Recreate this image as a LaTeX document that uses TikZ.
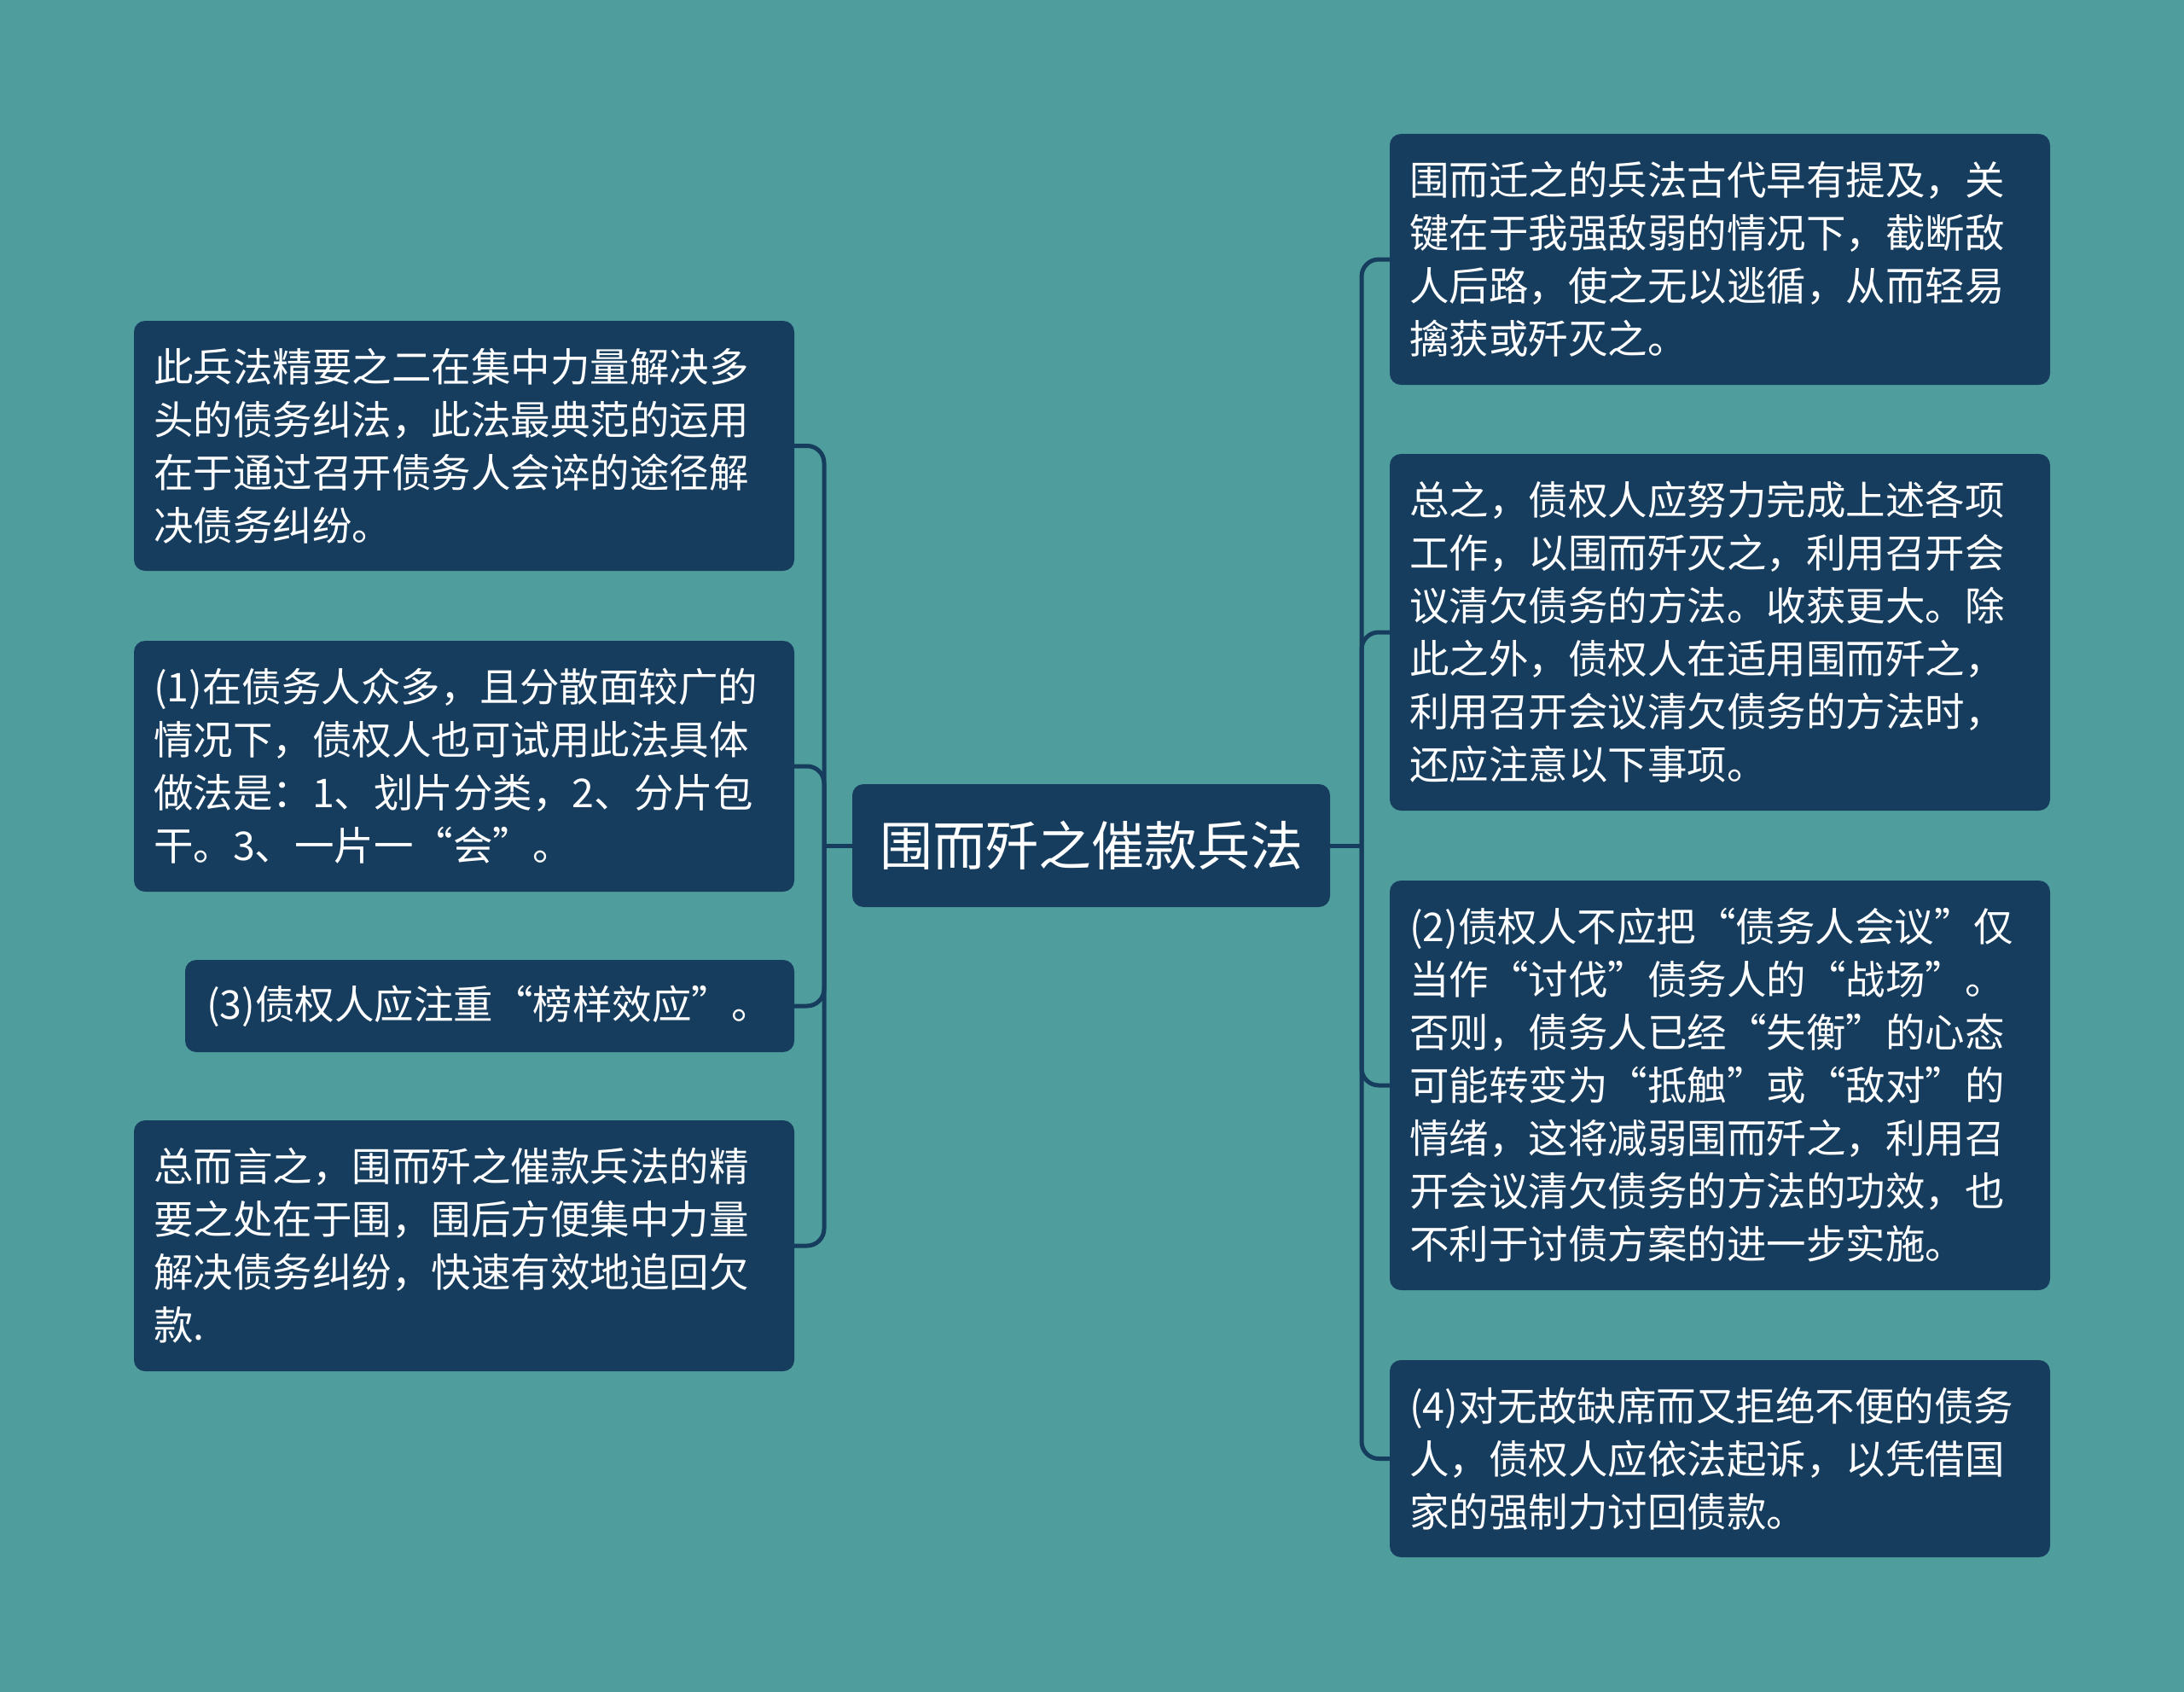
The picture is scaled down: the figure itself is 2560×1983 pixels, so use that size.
\documentclass[tikz,border=0pt]{standalone}
\usepackage{fontspec}
\setmainfont{Noto Sans CJK SC}
\definecolor{bgc}{HTML}{4F9E9D}
\definecolor{boxc}{HTML}{173D5E}
\tikzset{
  box/.style={rounded corners=13pt, fill=boxc, text=white, inner xsep=23pt, inner ysep=0pt,
    align=left, anchor=center, font=\fontsize{46.5}{62}\selectfont},
  rootbox/.style={rounded corners=13pt, fill=boxc, text=white, inner sep=0pt,
    align=center, anchor=center, font=\fontsize{62}{70}\selectfont,
    minimum width=560pt, minimum height=144pt},
  conn/.style={draw=boxc, line width=5pt},
}
\begin{document}
\begin{tikzpicture}[x=1pt,y=-1pt]
\fill[bgc] (0,0) rectangle (2560,1983);
\useasboundingbox (0,0) rectangle (2560,1983);

\node[rootbox] (c) at (1279,991) {围而歼之催款兵法};

\node[box, text width=728pt, minimum height=293pt] (l1) at (544,522.5) {此兵法精要之二在集中力量解决多\\头的债务纠法，此法最典范的运用\\在于通过召开债务人会谇的途径解\\决债务纠纷。};
\node[box, text width=728pt, minimum height=294pt] (l2) at (544,898) {(1)在债务人众多，且分散面较广的\\情况下，债权人也可试用此法具体\\做法是：1、划片分类，2、分片包\\干。3、一片一“会”。};
\node[box, text width=664pt, inner xsep=25pt, minimum height=108pt] (l3) at (574,1179) {(3)债权人应注重“榜样效应”。};
\node[box, text width=728pt, minimum height=294pt] (l4) at (544,1460) {总而言之，围而歼之催款兵法的精\\要之处在于围，围后方便集中力量\\解决债务纠纷，快速有效地追回欠\\款.};

\node[box, text width=728pt, minimum height=294pt] (r1) at (2016,304) {围而迁之的兵法古代早有提及，关\\键在于我强敌弱的情况下，截断敌\\人后路，使之无以逃循，从而轻易\\擒获或歼灭之。};
\node[box, text width=728pt, minimum height=418pt] (r2) at (2016,741) {总之，债权人应努力完成上述各项\\工作，以围而歼灭之，利用召开会\\议清欠债务的方法。收获更大。除\\此之外，债权人在适用围而歼之，\\利用召开会议清欠债务的方法时，\\还应注意以下事项。};
\node[box, text width=728pt, minimum height=480pt] (r3) at (2016,1272) {(2)债权人不应把“债务人会议”仅\\当作“讨伐”债务人的“战场”。\\否则，债务人已经“失衡”的心态\\可能转变为“抵触”或“敌对”的\\情绪，这将减弱围而歼之，利用召\\开会议清欠债务的方法的功效，也\\不利于讨债方案的进一步实施。};
\node[box, text width=728pt, minimum height=231pt] (r4) at (2016,1709.5) {(4)对无故缺席而又拒绝不便的债务\\人，债权人应依法起诉，以凭借国\\家的强制力讨回债款。};

\coordinate (lj) at (966,991);
\coordinate (rj) at (1596,991);

\draw[conn] (c.west) -- (lj);
\draw[conn] (c.east) -- (rj);
\foreach \n in {l1,l2,l3,l4} {
  \draw[conn, rounded corners=20pt] (lj) |- (\n.east);
}
\foreach \n in {r1,r2,r3,r4} {
  \draw[conn, rounded corners=20pt] (rj) |- (\n.west);
}
\end{tikzpicture}
\end{document}
